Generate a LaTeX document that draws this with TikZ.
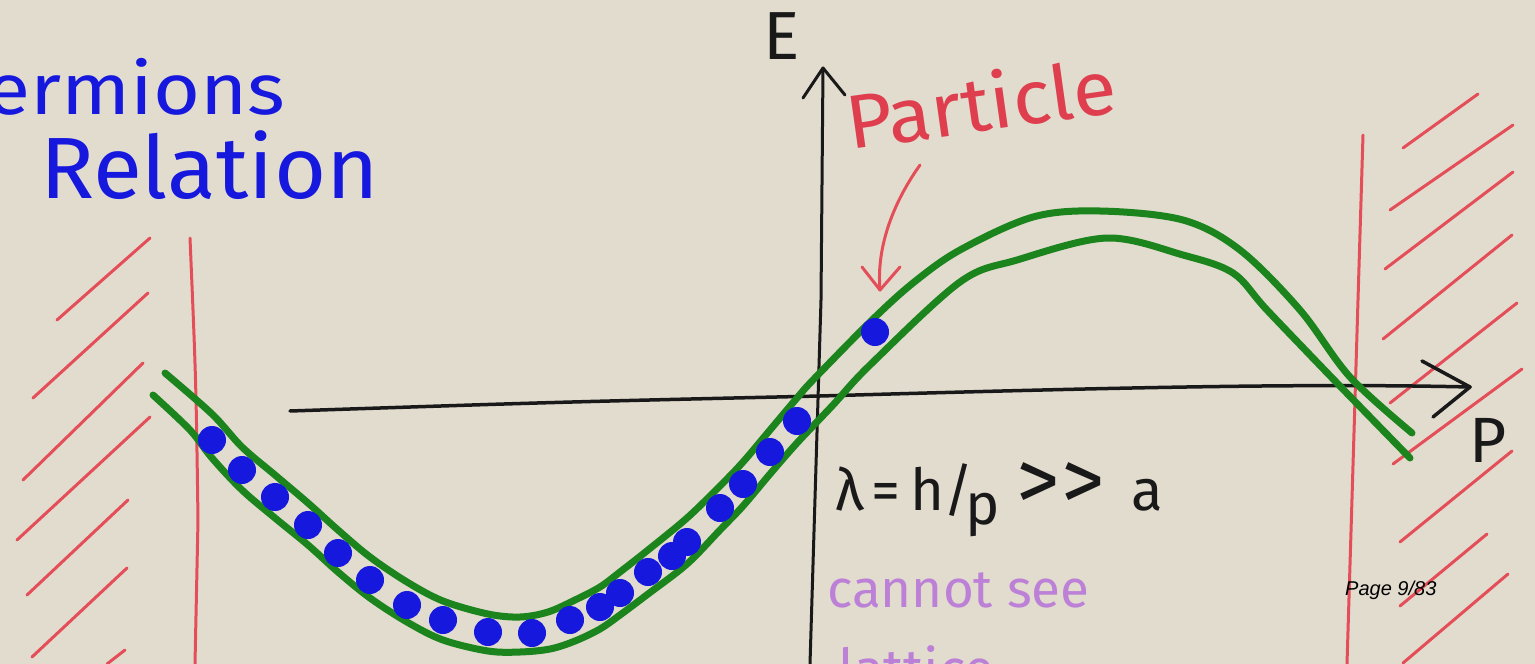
\documentclass[tikz,border=0pt]{standalone}
\usepackage{fontspec}
\setmainfont{Fira Sans}
\newfontfamily\pagefont{Liberation Sans}
\definecolor{paper}{RGB}{226,220,207}
\definecolor{handgreen}{RGB}{28,132,28}
\definecolor{handred}{RGB}{228,78,88}
\definecolor{textred}{RGB}{222,62,78}
\definecolor{handblue}{RGB}{22,24,222}
\definecolor{handpurple}{RGB}{188,128,215}
\definecolor{handblack}{RGB}{25,25,25}
\begin{document}
\begin{tikzpicture}[x=1pt,y=-1pt,line cap=round,line join=round,
  hatchline/.style={draw=handred,line width=3pt},
  wallline/.style={draw=handred,line width=3pt},
  axisline/.style={draw=handblack,line width=3.5pt},
  bandline/.style={draw=handgreen,line width=7pt},
  fermion/.style={circle,fill=handblue,inner sep=0pt,minimum size=28pt},
  handtext/.style={inner sep=0pt,anchor=base west},
]
\fill[paper] (0,0) rectangle (1535,664);
\useasboundingbox (0,0) rectangle (1535,664);
\clip (0,0) rectangle (1535,664);

% ---- titles ----
\node[handtext,text=handblue,font=\fontsize{72}{80}\selectfont] (t1) at (-14,114) {\scalebox{1.12}[1]{ermions}};
\node[handtext,text=handblue,font=\fontsize{87}{96}\selectfont] (t2) at (40,198) {\scalebox{1.03}[1]{Relation}};

% ---- walls ----
\coordinate (wl1) at (190,238); \coordinate (wl2) at (198,520); \coordinate (wl3) at (195,664);
\draw[wallline] (wl1) .. controls (196,380) .. (wl2) -- (wl3);
\coordinate (wr1) at (1363,135); \coordinate (wr2) at (1358,300); \coordinate (wr3) at (1347,664);
\draw[wallline] (wr1) -- (wr2) -- (wr3);

% left hatches
\foreach \a/\b/\c/\d in {57/320/150/238, 33/398/148/293, 23/480/143/363, 17/540/150/417,
  27/595/128/500, 32/657/127/568, 107/664/125/650}
  \draw[hatchline] (\a,\b) -- (\c,\d);
% right hatches
\foreach \a/\b/\c/\d in {1403/148/1478/94, 1390/210/1513/125, 1385/269/1513/172, 1383/339/1512/235,
  1390/403/1517/303, 1393/464/1522/369, 1400/542/1512/451, 1400/606/1487/534, 1403/663/1508/574}
  \draw[hatchline] (\a,\b) -- (\c,\d);

% ---- axes ----
\coordinate (ytop) at (823,68); \coordinate (ymid) at (821,300); \coordinate (ybot) at (810,664);
\draw[axisline,line width=3pt] (ytop) -- (ymid) -- (ybot);
\draw[axisline,line width=3pt] (803,98) -- (ytop) -- (845,95);
\coordinate (xleft) at (290,411); \coordinate (xmid) at (820,396); \coordinate (xtip) at (1470,387);
\draw[axisline] (xleft) .. controls (560,402) .. (xmid) .. controls (1100,388) and (1300,383) .. (xtip);
\draw[axisline] (1422,361) -- (xtip) -- (1433,417);
\node[text=handblack,font=\fontsize{68}{70}\selectfont,inner sep=0pt] (E) at (782,36) {E};
\node[text=handblack,font=\fontsize{64}{70}\selectfont,inner sep=0pt] (P) at (1488,440) {P};

% ---- band ----
\draw[bandline] plot[smooth,tension=0.55] coordinates {(165,373) (212,414) (242,447) (275,475)
  (308,503) (338,530) (370,557) (407,582) (443,601) (488,614) (520,617) (548,612) (575,600)
  (600,587) (620,572) (648,550) (687,518) (720,486) (743,462) (770,430) (797,398)
  (813,380) (870,322) (913,283) (960,250) (1033,217) (1100,211) (1183,220) (1240,250)
  (1300,310) (1350,377) (1412,433)};
\draw[bandline] plot[smooth,tension=0.55] coordinates {(153,395) (190,430) (212,458) (242,490)
  (275,518) (308,545) (338,572) (370,598) (407,622) (443,640) (488,651) (520,652) (550,649)
  (575,641) (600,629) (620,615) (648,594) (687,564) (720,530) (743,506) (770,474) (797,443)
  (833,405) (870,365) (960,282) (1017,260) (1107,238) (1183,255) (1233,273)
  (1267,310) (1337,383) (1410,458)};

% ---- fermions ----
\foreach \x/\y [count=\i] in {212/440, 242/470, 275/497, 308/525, 338/553, 370/580, 407/605,
  443/620, 488/632, 532/633, 570/620, 600/607, 620/593, 648/572, 672/556, 687/542, 720/508,
  743/484, 770/452, 797/421}
  \node[fermion] (f\i) at (\x,\y) {};
\node[fermion,minimum size=28pt] (particle) at (875,332) {};

% ---- particle label ----
\node[handtext,text=textred,font=\fontsize{76}{80}\selectfont,rotate=8] (plabel) at (850,150) {\scalebox{1.05}[1]{Particle}};
\coordinate (ptail) at (920,165); \coordinate (phead) at (880,290);
\draw[wallline] (ptail) .. controls (895,200) and (876,245) .. (phead);
\draw[wallline] (862,267) -- (phead) -- (900,267);

% ---- notes ----
\node[handtext,text=handblack,font=\fontsize{58}{60}\selectfont] (lam) at (835,510)
  {λ\kern8pt=\kern10pt h\kern-1pt/\kern-8pt\raisebox{-14pt}{p}\kern16pt\scalebox{1.5}{>}\kern2pt\scalebox{1.5}{>}\kern26pt a};
\node[handtext,text=handpurple,font=\fontsize{53}{60}\selectfont] (cs) at (827,607) {cannot see};
\node[handtext,text=handpurple,font=\fontsize{55}{60}\selectfont] (lat) at (838,688) {lattice};
\node[handtext,text=black,font=\pagefont\itshape\fontsize{20}{24}\selectfont] (page) at (1345,595) {Page 9/83};
\end{tikzpicture}
\end{document}
